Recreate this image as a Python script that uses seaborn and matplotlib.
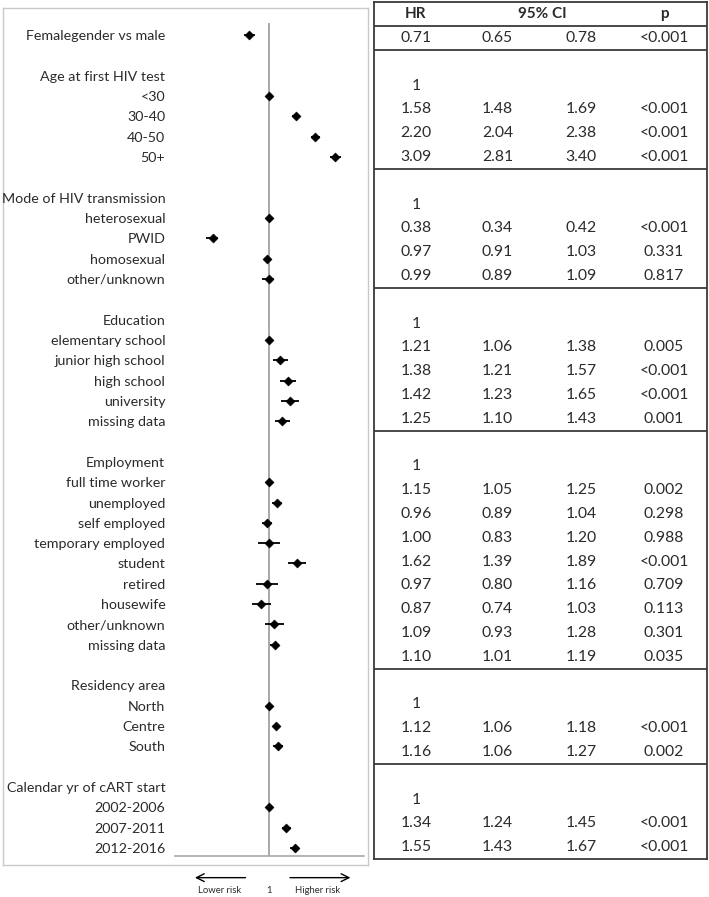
import numpy as np
import pandas as pd
import matplotlib
matplotlib.use("Agg")
import matplotlib.pyplot as plt
import matplotlib.transforms as mtransforms
import seaborn as sns

nan = np.nan

# 1. Values (headers have hr = nan, reference rows have lo = nan)
labels = ["Femalegender vs male",
          "Age at first HIV test", "<30", "30-40", "40-50", "50+",
          "Mode of HIV transmission", "heterosexual", "PWID", "homosexual", "other/unknown",
          "Education", "elementary school", "junior high school", "high school", "university", "missing data",
          "Employment", "full time worker", "unemployed", "self employed", "temporary employed", "student",
          "retired", "housewife", "other/unknown", "missing data",
          "Residency area", "North", "Centre", "South",
          "Calendar yr of cART start", "2002-2006", "2007-2011", "2012-2016"]
hr = [0.71,
      nan, 1, 1.58, 2.20, 3.09,
      nan, 1, 0.38, 0.97, 0.99,
      nan, 1, 1.21, 1.38, 1.42, 1.25,
      nan, 1, 1.15, 0.96, 1.00, 1.62, 0.97, 0.87, 1.09, 1.10,
      nan, 1, 1.12, 1.16,
      nan, 1, 1.34, 1.55]
lo = [0.65,
      nan, nan, 1.48, 2.04, 2.81,
      nan, nan, 0.34, 0.91, 0.89,
      nan, nan, 1.06, 1.21, 1.23, 1.10,
      nan, nan, 1.05, 0.89, 0.83, 1.39, 0.80, 0.74, 0.93, 1.01,
      nan, nan, 1.06, 1.06,
      nan, nan, 1.24, 1.43]
hi = [0.78,
      nan, nan, 1.69, 2.38, 3.40,
      nan, nan, 0.42, 1.03, 1.09,
      nan, nan, 1.38, 1.57, 1.65, 1.43,
      nan, nan, 1.25, 1.04, 1.20, 1.89, 1.16, 1.03, 1.28, 1.19,
      nan, nan, 1.18, 1.27,
      nan, nan, 1.45, 1.67]
pval = ["<0.001",
        "", "", "<0.001", "<0.001", "<0.001",
        "", "", "<0.001", "0.331", "0.817",
        "", "", "0.005", "<0.001", "<0.001", "0.001",
        "", "", "0.002", "0.298", "0.988", "<0.001", "0.709", "0.113", "0.301", "0.035",
        "", "", "<0.001", "0.002",
        "", "", "<0.001", "<0.001"]
col_headers = ["HR", "95% CI", "p"]

df = pd.DataFrame({"label": labels, "hr": hr, "lo": lo, "hi": hi, "p": pval})
df["header"] = df["hr"].isna()
# plot slot: one empty slot before every section header
df["slot"] = np.arange(len(df)) + df["header"].cumsum()
# table row: header row 0 on top, section headers become blank rows
df["trow"] = np.arange(len(df)) + 1

sns.set_style("white")
plt.rcParams["font.family"] = ["Lato", "DejaVu Sans"]
txt = "#2b2b2b"

W, H = 709, 897
fig = plt.figure(figsize=(W / 100, H / 100), dpi=100)

def rect(x0, y0, x1, y1):
    return [x0 / W, 1 - y1 / H, (x1 - x0) / W, (y1 - y0) / H]

# 2. Outer light frame of the forest panel
frame = fig.add_axes(rect(3, 8, 368, 865))
frame.set_xticks([]); frame.set_yticks([])
for s in frame.spines.values():
    s.set_color("#c9c9c9"); s.set_linewidth(1.0)

# 3. Forest plot
ax = fig.add_axes(rect(175, 23, 364, 856))
ax.set_facecolor("none")
pts = df[~df["header"]]
ci = pts.dropna(subset=["lo"])
ax.hlines(ci["slot"], ci["lo"], ci["hi"], color="black", lw=1.3, zorder=3)
sns.scatterplot(data=pts, x="hr", y="slot", marker="D", s=22, color="black",
                edgecolor="black", linewidth=0.3, ax=ax, zorder=4, legend=False)
ax.axvline(1, color="#a8a8a8", lw=1.4, zorder=1)
ax.set_xscale("log")
ax.set_xlim(0.2, 5.05)
ax.set_ylim(40.39, -0.59)
ax.set_xticks([]); ax.set_xticks([], minor=True)
ax.set_yticks(df["slot"])
ax.set_yticklabels(df["label"], fontsize=10.3, color=txt)
ax.tick_params(axis="y", length=0, pad=7)
ax.set_xlabel(""); ax.set_ylabel("")
for side in ["top", "left", "right"]:
    ax.spines[side].set_visible(False)
ax.spines["bottom"].set_color("#a8a8a8")
ax.spines["bottom"].set_linewidth(1.2)

# risk arrows below the axis
tr = mtransforms.blended_transform_factory(ax.transData, ax.transAxes)
ax.annotate("", xy=(0.268, -0.026), xytext=(0.70, -0.026), xycoords=tr,
            arrowprops=dict(arrowstyle="->", color="black", lw=1.0, mutation_scale=14),
            annotation_clip=False)
ax.annotate("", xy=(4.2, -0.026), xytext=(1.36, -0.026), xycoords=tr,
            arrowprops=dict(arrowstyle="->", color="black", lw=1.0, mutation_scale=14),
            annotation_clip=False)
for xv, s in [(0.43, "Lower risk"), (1.0, "1"), (2.27, "Higher risk")]:
    ax.text(xv, -0.041, s, transform=tr, ha="center", va="center", fontsize=6.8, color=txt)

# 4. Table of estimates
n_rows = len(df) + 1
tb = fig.add_axes(rect(374, 2.3, 707, 859.2))
tb.set_xlim(0, 1)
tb.set_ylim(n_rows - 0.5, -0.5)
tb.set_xticks([]); tb.set_yticks([])
for s in tb.spines.values():
    s.set_color("#3a3a3a"); s.set_linewidth(1.3)

cols = [0.126, 0.371, 0.622, 0.871]
for x, s in zip([0.126, 0.505, 0.871], col_headers):
    tb.text(x, 0, s, ha="center", va="center", fontsize=11, fontweight="bold", color=txt)
for _, r in df.iterrows():
    if r["header"]:
        continue
    if np.isnan(r["lo"]):
        vals = ["1", "", "", ""]
    else:
        vals = [f"{r['hr']:.2f}", f"{r['lo']:.2f}", f"{r['hi']:.2f}", r["p"]]
    for x, v in zip(cols, vals):
        tb.text(x, r["trow"], v, ha="center", va="center", fontsize=11.3, color=txt)

# section separators: after column header, and before each section header
seps = [0.5] + list(df.loc[df["header"], "trow"] - 0.5)
for y in seps:
    tb.axhline(y, color="#3a3a3a", lw=1.3)

fig.savefig("out.png", dpi=100)
